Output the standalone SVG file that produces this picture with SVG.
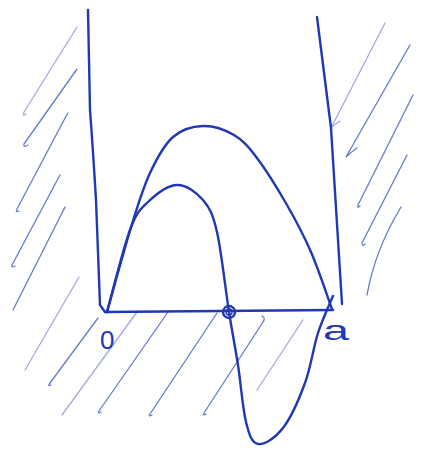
<svg xmlns="http://www.w3.org/2000/svg" width="428" height="451" viewBox="0 0 428 451">
<style>
.pen{fill:none;stroke:#2138b4;stroke-width:2.4;stroke-linecap:round;stroke-linejoin:round}
.hatch{fill:none;stroke:#4257c4;stroke-width:1.3;stroke-linecap:round;stroke-linejoin:round;opacity:0.8}
.faint{opacity:0.5}
.lbl{font-family:"Liberation Sans",Arial,sans-serif;fill:#2138b4}
</style>
<rect width="428" height="451" fill="#ffffff"/>
<g id="hatching-left">
<path class="hatch faint" d="M77,27 L24,112 Q22,117 26,114"/>
<path class="hatch" d="M77,69 L24,144 Q23,148 28,145"/>
<path class="hatch" d="M68,113 Q66,116 64,120 L17,209 Q15,213 19,211"/>
<path class="hatch" d="M60,175 L12,265 Q11,268 15,266"/>
<path class="hatch" d="M65,207 L13,310"/>
<path class="hatch faint" d="M79,277 L25,370"/>
</g>
<g id="hatching-bottom">
<path class="hatch" d="M98,318 L50,383 Q47,387 51,385"/>
<path class="hatch faint" d="M137,312 L62,415"/>
<path class="hatch" d="M168,312 L99,411 Q97,414 101,412"/>
<path class="hatch" d="M217,313 L150,414 Q148,417 152,415"/>
<path class="hatch" d="M262,316 Q266,318 263,322 L204,413 Q202,416 206,414"/>
<path class="hatch faint" d="M303,320 L257,390"/>
</g>
<g id="hatching-right">
<path class="hatch faint" d="M385,23 L331,128 Q335,124 340,121"/>
<path class="hatch" d="M410,45 L346,157 Q350,153 357,148"/>
<path class="hatch" d="M413,95 L358,205 Q357,209 360,206"/>
<path class="hatch" d="M407,155 L362,243 Q362,247 365,244"/>
<path class="hatch" d="M401,207 Q375,250 367,295"/>
</g>
<g id="well">
<path id="left-wall" class="pen" d="M88,10 L90,110 Q93,150 96,200 L100,305 L105,312"/>
<path id="right-wall" class="pen" d="M317,17 L331,128 L333,160 L342,304"/>
<path id="axis" class="pen" d="M105,312 L220,311 L333,310"/>
</g>
<g id="connectors">
<path id="ground-state" class="pen" d="M107,312 C111.2,297.3 124.8,247.2 132,224 C139.2,200.8 143.2,187.5 150,173 C156.8,158.5 164.2,144.8 173,137 C181.8,129.2 192.8,126.3 203,126 C213.2,125.7 225,129.7 234,135 C243,140.3 248.2,146.3 257,158 C265.8,169.7 278,189.3 287,205 C296,220.7 303.5,234.7 311,252 C318.5,269.3 328.5,299.5 332,309"/>
<path id="first-excited" class="pen" d="M107,312 C110.8,298.3 123.2,248.3 130,230 C136.8,211.7 140.2,209.5 148,202 C155.8,194.5 167.8,185.3 177,185 C186.2,184.7 196.3,192.2 203,200 C209.7,207.8 212.7,213.3 217,232 C221.3,250.7 225.5,289.8 229,312 C232.5,334.2 235.2,346.7 238,365 C240.8,383.3 242.7,408.8 246,422 C249.3,435.2 251.8,443 258,444 C264.2,445 275.2,438.2 283,428 C290.8,417.8 299.2,398.8 305,383 C310.8,367.2 313.3,347.5 318,333 C322.7,318.5 330.5,302.2 333,296"/>
</g>
<g id="node">
<circle class="pen" cx="229" cy="312" r="6"/>
<circle class="pen" cx="229" cy="312" r="3" style="stroke-width:1.4"/>
</g>
<g id="labels">
<text class="lbl" x="100" y="349" font-size="26">0</text>
<text class="lbl" x="323" y="340" font-size="28" textLength="26" lengthAdjust="spacingAndGlyphs">a</text>
</g>
</svg>
